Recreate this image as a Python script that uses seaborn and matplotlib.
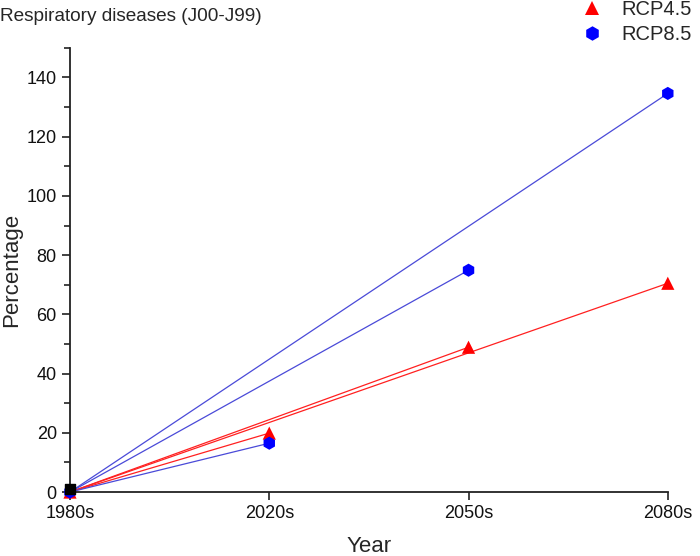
import matplotlib
matplotlib.use('Agg')
import matplotlib.pyplot as plt
from matplotlib.ticker import MultipleLocator
import seaborn as sns
import pandas as pd

periods = ['1980s', '2020s', '2050s', '2080s']
rcp45 = [0, 19.9, 48.9, 70.5]
rcp85 = [0, 16.5, 74.9, 134.6]
baseline = 1.2

sns.set_theme(style='ticks')
plt.rcParams['font.family'] = ['Liberation Sans', 'DejaVu Sans']

# points table
rows = []
for name, vals in [('RCP4.5', rcp45), ('RCP8.5', rcp85)]:
    for i, v in enumerate(vals):
        rows.append({'x': i, 'y': v, 'scenario': name})
pts = pd.DataFrame(rows)

# segments from the 1980s origin to every future period
seg_rows = []
for name, vals in [('RCP4.5', rcp45), ('RCP8.5', rcp85)]:
    for i in range(1, len(vals)):
        seg = f'{name}-{i}'
        seg_rows.append({'x': 0, 'y': 0, 'scenario': name, 'seg': seg})
        seg_rows.append({'x': i, 'y': vals[i], 'scenario': name, 'seg': seg})
segs = pd.DataFrame(seg_rows)

fig = plt.figure(figsize=(7, 5.56), dpi=100)
ax = fig.add_axes([0.1, 0.115, 0.854, 0.799])

sns.lineplot(data=segs, x='x', y='y', hue='scenario', units='seg', estimator=None,
             palette={'RCP4.5': '#ff2020', 'RCP8.5': '#4a4ad8'}, linewidth=0.9,
             legend=False, ax=ax)
sns.scatterplot(data=pts, x='x', y='y', hue='scenario', style='scenario',
                markers={'RCP4.5': '^', 'RCP8.5': 'h'},
                palette={'RCP4.5': '#ff0000', 'RCP8.5': '#0000ff'},
                s=90, linewidth=0, clip_on=False, zorder=5, ax=ax)
ax.scatter([0], [baseline], marker='s', color='black', s=45, clip_on=False, zorder=6)

ax.set_xlim(0, 3)
ax.set_ylim(0, 150)
ax.set_xticks(range(len(periods)))
ax.set_xticklabels(periods)
ax.yaxis.set_minor_locator(MultipleLocator(10))
ax.set_yticks([0, 20, 40, 60, 80, 100, 120, 140])
ax.tick_params(axis='both', which='major', labelsize=13, length=6, width=1.2,
               color='#222222', labelcolor='#111111')
ax.tick_params(axis='y', which='minor', length=4, width=1.2, color='#222222')
for side in ['top', 'right']:
    ax.spines[side].set_visible(False)
for side in ['left', 'bottom']:
    ax.spines[side].set_linewidth(1.3)
    ax.spines[side].set_color('#222222')

ax.set_xlabel('Year', fontsize=16)
ax.set_ylabel('Percentage', fontsize=16)
ax.xaxis.labelpad = 10
ax.yaxis.set_label_coords(-0.08, 0.5)

fig.text(0.0, 1 - 8 / 556, 'Respiratory diseases (J00-J99)', fontsize=13.7, ha='left', va='top')

leg = ax.legend(loc='upper left', bbox_to_anchor=(579 / 700, 1.0), bbox_transform=fig.transFigure,
                frameon=False, fontsize=14.5, handlelength=1.3, handletextpad=0.8,
                labelspacing=0.28, borderaxespad=0.0, borderpad=0.0, markerscale=1.1)
leg.set_title(None)

fig.savefig('out.png', dpi=100)
